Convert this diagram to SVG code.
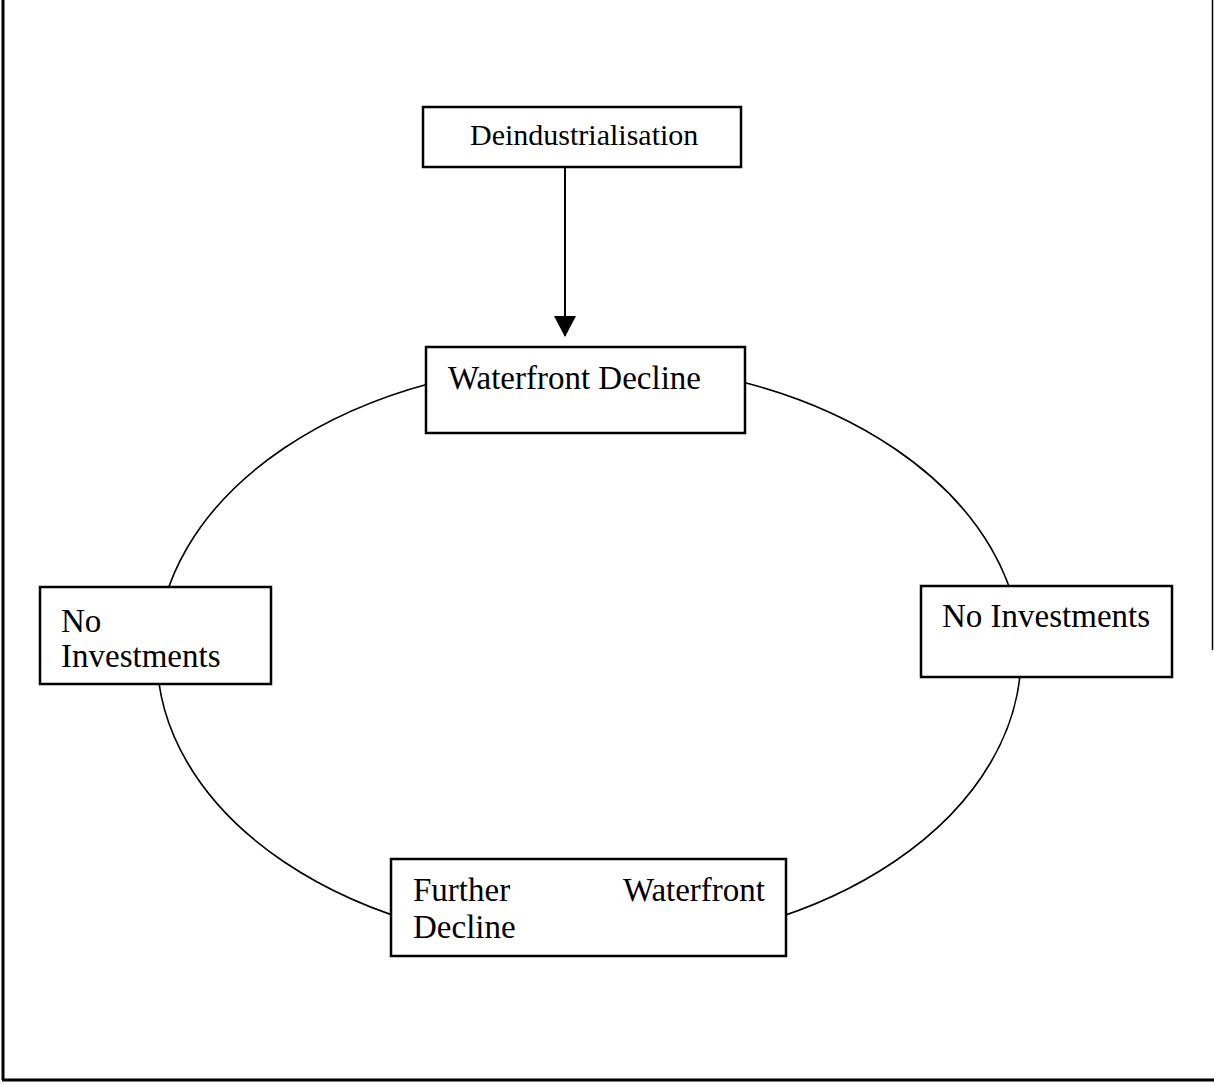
<svg xmlns="http://www.w3.org/2000/svg" width="1214" height="1085" viewBox="0 0 1214 1085">
<style>
.box{fill:#fff;stroke:#000;stroke-width:2.5}
.lbl{font-family:"Liberation Serif","Times New Roman",serif;font-size:33px;fill:#000}
.edge{fill:none;stroke:#000;stroke-width:1.6}
.frame{fill:none;stroke:#000;stroke-width:3}
</style>
<defs>
<marker id="ah" markerWidth="22" markerHeight="22" refX="20" refY="11" orient="auto" markerUnits="userSpaceOnUse" viewBox="0 0 22 22">
<path d="M0,0 L21,11 L0,22 Z" fill="#000"/>
</marker>
</defs>
<g id="frame">
<line class="frame" x1="3" y1="0" x2="3" y2="1080"/>
<line class="frame" x1="2" y1="1080" x2="1214" y2="1080"/>
<line x1="1212.5" y1="0" x2="1212.5" y2="650" stroke="#000" stroke-width="1.5"/>
</g>
<g id="connectors">
<ellipse class="edge" cx="589" cy="655" rx="432" ry="292"/>
<line x1="565" y1="167" x2="565" y2="336" stroke="#000" stroke-width="2" marker-end="url(#ah)"/>
</g>
<g id="deindustrialisation">
<rect class="box" x="423" y="107" width="318" height="60"/>
<text class="lbl" x="470" y="145" style="font-size:30px">Deindustrialisation</text>
</g>
<g id="waterfront-decline">
<rect class="box" x="426" y="347" width="319" height="86"/>
<text class="lbl" x="448" y="389">Waterfront Decline</text>
</g>
<g id="no-investments-left">
<rect class="box" x="40" y="587" width="231" height="97"/>
<text class="lbl" x="61" y="632">No</text>
<text class="lbl" x="61" y="667">Investments</text>
</g>
<g id="no-investments-right">
<rect class="box" x="921" y="586" width="251" height="91"/>
<text class="lbl" x="942" y="627">No Investments</text>
</g>
<g id="further-decline">
<rect class="box" x="391" y="859" width="395" height="97"/>
<text class="lbl" x="413" y="901">Further</text>
<text class="lbl" x="765" y="901" text-anchor="end">Waterfront</text>
<text class="lbl" x="413" y="938">Decline</text>
</g>
</svg>
